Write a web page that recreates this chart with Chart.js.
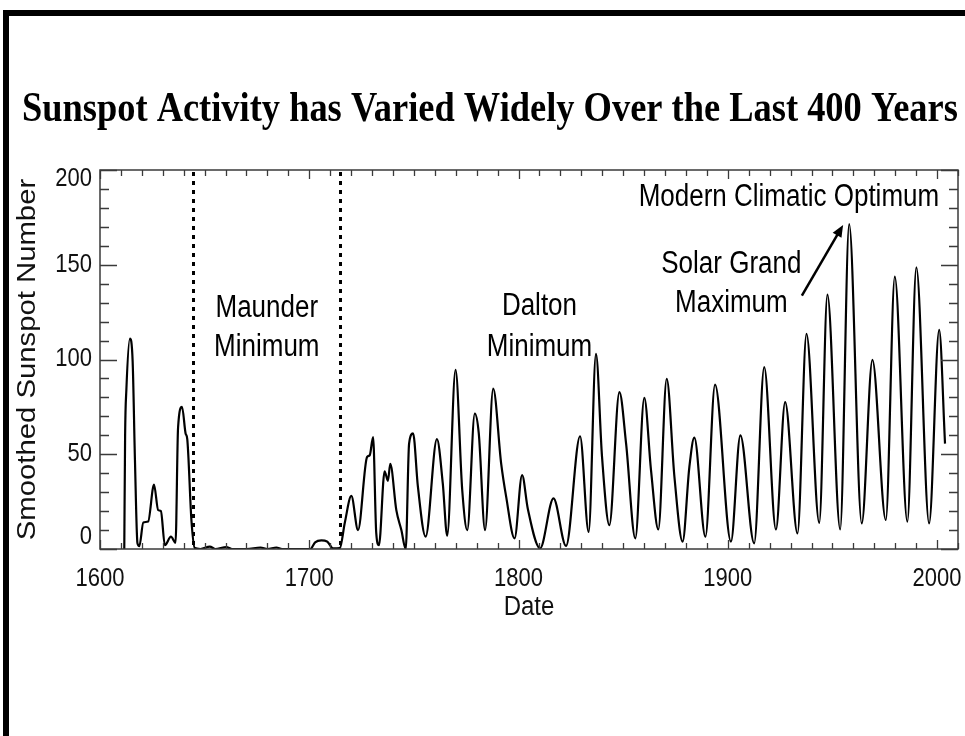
<!DOCTYPE html>
<html>
<head>
<meta charset="utf-8">
<title>Sunspot Activity</title>
<script src="https://cdn.jsdelivr.net/npm/chart.js@4.4.1/dist/chart.umd.min.js"></script>
<style>
    html, body { margin: 0; padding: 0; background: #fff; }
    #sunspotChart { display: block; }
</style>
</head>
<body>
<canvas id="sunspotChart" width="965" height="736"></canvas>
<script>
const chartTitle = 'Sunspot Activity has Varied Widely Over the Last 400 Years';
const xAxisTitle = 'Date';
const yAxisTitle = 'Smoothed Sunspot Number';

// smoothed sunspot number (peaks, troughs and shoulders)
const years = [
    1611.6, 1612.0, 1612.6, 1614.3, 1615.6, 1616.7, 1617.9, 1618.8, 1620.7, 1623.0,
    1625.8, 1627.8, 1629.1, 1631.0, 1633.9, 1636.1, 1637.3, 1639.2, 1640.9, 1641.7,
    1643.7, 1645.3, 1648.0, 1652.5, 1655.0, 1660.4, 1663.0, 1670.0, 1676.7, 1680.0,
    1684.3, 1687.0, 1700.5, 1702.8, 1705.8, 1708.5, 1711.4, 1714.6, 1717.0, 1720.1,
    1723.3, 1727.6, 1728.9, 1730.5, 1732.0, 1733.3, 1736.0, 1737.6, 1738.7, 1741.6,
    1744.0, 1746.1, 1747.7, 1749.6, 1751.9, 1755.6, 1761.0, 1763.8, 1765.9, 1769.9,
    1773.1, 1775.5, 1779.1, 1781.0, 1784.0, 1787.9, 1791.7, 1794.1, 1798.1, 1801.7,
    1804.4, 1810.3, 1816.7, 1822.7, 1829.4, 1833.5, 1837.0, 1839.9, 1843.4, 1848.2,
    1851.4, 1855.8, 1860.1, 1863.3, 1866.8, 1870.8, 1874.5, 1878.4, 1881.6, 1884.0,
    1889.3, 1893.9, 1901.5, 1906.0, 1912.6, 1917.4, 1923.0, 1927.4, 1933.3, 1937.6,
    1943.7, 1947.6, 1953.7, 1958.0, 1964.0, 1969.1, 1975.5, 1979.8, 1985.8, 1990.1,
    1996.2, 2001.0, 2003.8
];
const sunspots = [
    0, 60, 84, 111, 99, 47, 3, 1.5, 14, 14.5,
    34, 20.5, 20, 2, 6.5, 3.3, 64, 75, 61, 58,
    15, 0.5, 0, 1.3, 0, 1, 0, 0, 0.8, 0,
    0.8, 0, 0, 3.5, 4.5, 4, 0.3, 0.5, 14, 28,
    10, 48.5, 49.5, 59, 8.5, 2, 41, 36, 45, 20.5,
    10, 0, 55.6, 61, 33, 6.5, 58, 34.6, 7, 94.5,
    31, 10, 71.4, 61, 10, 84.6, 45, 27.5, 5.6, 39,
    21.4, 0.4, 26.7, 1.6, 59.5, 9, 103, 48.6, 12.6, 82.8,
    55.6, 5.6, 79.8, 41.6, 10.3, 89.8, 38, 3.9, 43, 58.8,
    6.5, 86.7, 3.9, 60, 3, 96, 10.3, 77.5, 8.2, 113.5,
    13.8, 134.2, 10.3, 171.4, 13.5, 99.8, 15.3, 143.7, 14.4, 148.6,
    13.5, 115.6, 55.6
];

const xTickLabels = [1600, 1700, 1800, 1900, 2000];
const yTickLabels = [0, 50, 100, 150, 200];

// start and end of the Maunder Minimum (dotted lines)
const maunderBounds = [1644.5, 1714.6];

// text notes placed in data units
const noteTexts = ['Maunder', 'Minimum', 'Dalton', 'Minimum', 'Solar Grand', 'Maximum', 'Modern Climatic Optimum'];
const noteYears = [1679.7, 1679.7, 1810, 1810, 1901.7, 1901.7, 2001];
const noteValues = [126.8, 106.3, 127.9, 106.3, 150, 129.5, 185.8];
const noteAligns = ['center', 'center', 'center', 'center', 'center', 'center', 'right'];

// arrow from "Solar Grand Maximum" to the 1958 peak
const arrowFrom = [1935.4, 133.7];
const arrowTo = [1955.1, 171];

const TEXT_STRETCH = 1.14;
const NOTE_STRETCH = 1.2;
const SANS = '"Liberation Sans", Arial, sans-serif';
const SERIF = '"Liberation Serif", "Times New Roman", serif';

function stretchedText(ctx, text, x, y, align, baseline, stretch) {
    ctx.save();
    ctx.translate(x, y);
    ctx.scale(1, stretch || TEXT_STRETCH);
    ctx.textAlign = align || 'center';
    ctx.textBaseline = baseline || 'middle';
    ctx.fillText(text, 0, 0);
    ctx.restore();
}

const sunspotDecor = {
    id: 'sunspotDecor',
    beforeDatasetsDraw(chart) {
        const { ctx, chartArea, scales } = chart;
        ctx.save();
        ctx.strokeStyle = '#000';
        ctx.lineWidth = 3;
        ctx.setLineDash([4, 5]);
        maunderBounds.forEach(yr => {
            const x = Math.round(scales.x.getPixelForValue(yr)) + 0.5;
            ctx.beginPath();
            ctx.moveTo(x, chartArea.top + 2);
            ctx.lineTo(x, chartArea.bottom);
            ctx.stroke();
        });
        ctx.restore();
    },
    afterDraw(chart) {
        const { ctx, chartArea, scales } = chart;
        const { left, right, top, bottom } = chartArea;
        ctx.save();

        // frame of the slide
        ctx.fillStyle = '#000';
        ctx.fillRect(3, 10, 6, 726);
        ctx.fillRect(3, 10, 962, 6);

        // title
        ctx.font = 'bold 30px ' + SERIF;
        const w = ctx.measureText(chartTitle).width;
        const size = 30 * 936 / w;
        ctx.font = 'bold ' + size.toFixed(2) + 'px ' + SERIF;
        ctx.fillStyle = '#000';
        stretchedText(ctx, chartTitle, 22, 121, 'left', 'alphabetic');

        // plot box
        ctx.strokeStyle = '#3a3a3a';
        ctx.lineWidth = 1.5;
        ctx.strokeRect(left, top, right - left, bottom - top);

        // y ticks, both sides, pointing inward
        ctx.lineWidth = 1.3;
        for (let v = 0; v <= 200; v += 10) {
            const y = Math.round(scales.y.getPixelForValue(v)) + 0.5;
            const len = v % 50 === 0 ? 17 : 9;
            ctx.beginPath();
            ctx.moveTo(left, y); ctx.lineTo(left + len, y);
            ctx.moveTo(right, y); ctx.lineTo(right - len, y);
            ctx.stroke();
        }
        // x ticks, top and bottom
        for (let yr = 1600; yr <= 2010; yr += 10) {
            const x = Math.round(scales.x.getPixelForValue(yr)) + 0.5;
            const len = yr % 100 === 0 ? 9 : 6;
            ctx.beginPath();
            ctx.moveTo(x, bottom); ctx.lineTo(x, bottom - len);
            ctx.moveTo(x, top); ctx.lineTo(x, top + len);
            ctx.stroke();
        }

        // tick labels
        ctx.fillStyle = '#111';
        ctx.font = '22px ' + SANS;
        yTickLabels.forEach(v => {
            let y = scales.y.getPixelForValue(v);
            y = Math.min(Math.max(y, top + 9), bottom - 12);
            stretchedText(ctx, String(v), left - 8, y, 'right');
        });
        xTickLabels.forEach(yr => {
            stretchedText(ctx, String(yr), scales.x.getPixelForValue(yr), bottom + 30);
        });

        // axis titles
        ctx.font = '24px ' + SANS;
        stretchedText(ctx, xAxisTitle, (left + right) / 2, bottom + 58);
        ctx.font = '25.7px ' + SANS;
        ctx.save();
        ctx.translate(28, (top + bottom) / 2);
        ctx.scale(1, TEXT_STRETCH);
        ctx.rotate(-Math.PI / 2);
        ctx.textAlign = 'center';
        ctx.textBaseline = 'middle';
        ctx.fillText(yAxisTitle, 0, 0);
        ctx.restore();

        // notes
        ctx.fillStyle = '#000';
        ctx.font = '26px ' + SANS;
        noteTexts.forEach((t, i) => {
            stretchedText(ctx, t, scales.x.getPixelForValue(noteYears[i]),
                scales.y.getPixelForValue(noteValues[i]), noteAligns[i], 'middle', NOTE_STRETCH);
        });

        // arrow
        const x0 = scales.x.getPixelForValue(arrowFrom[0]);
        const y0 = scales.y.getPixelForValue(arrowFrom[1]);
        const x1 = scales.x.getPixelForValue(arrowTo[0]);
        const y1 = scales.y.getPixelForValue(arrowTo[1]);
        const ang = Math.atan2(y1 - y0, x1 - x0);
        const head = 13;
        ctx.strokeStyle = '#000';
        ctx.lineWidth = 2.5;
        ctx.beginPath();
        ctx.moveTo(x0, y0);
        ctx.lineTo(x1 - Math.cos(ang) * head * 0.8, y1 - Math.sin(ang) * head * 0.8);
        ctx.stroke();
        ctx.beginPath();
        ctx.moveTo(x1, y1);
        ctx.lineTo(x1 - head * Math.cos(ang - 0.4), y1 - head * Math.sin(ang - 0.4));
        ctx.lineTo(x1 - head * Math.cos(ang + 0.4), y1 - head * Math.sin(ang + 0.4));
        ctx.closePath();
        ctx.fill();

        ctx.restore();
    }
};

new Chart(document.getElementById('sunspotChart'), {
    type: 'line',
    data: {
        datasets: [{
            label: yAxisTitle,
            data: years.map((yr, i) => ({ x: yr, y: sunspots[i] })),
            borderColor: '#000',
            borderWidth: 2.2,
            pointRadius: 0,
            fill: false,
            cubicInterpolationMode: 'monotone'
        }]
    },
    options: {
        responsive: false,
        animation: false,
        layout: {
            padding: { left: 100, right: 7, top: 170, bottom: 187 }
        },
        scales: {
            x: { type: 'linear', min: 1600, max: 2010, display: false },
            y: { type: 'linear', min: 0, max: 200, display: false }
        },
        plugins: {
            legend: { display: false },
            tooltip: { enabled: false }
        }
    },
    plugins: [sunspotDecor]
});
</script>
</body>
</html>
